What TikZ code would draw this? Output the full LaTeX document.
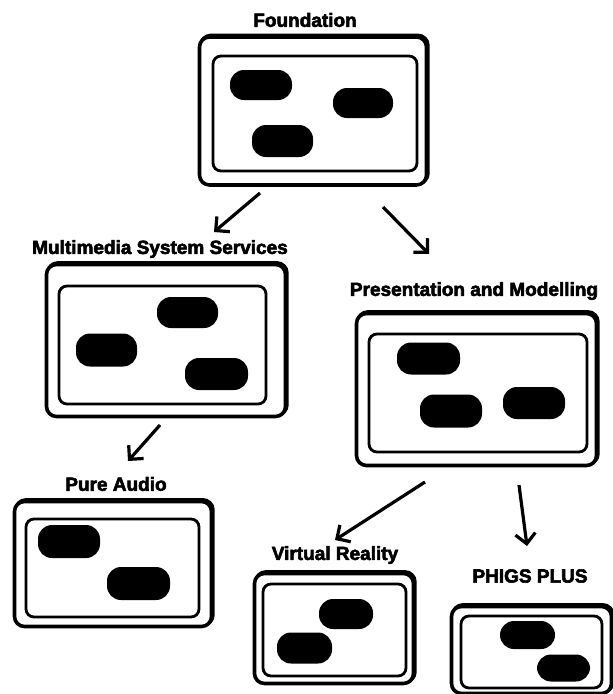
\documentclass[tikz,border=0pt]{standalone}
\usepackage{fontspec}
\setmainfont{Liberation Sans}
\newfontfamily\labfont[FakeBold=3]{Liberation Sans}
\usetikzlibrary{arrows.meta}
\tikzset{
  outerbox/.style={draw, line width=3.6pt, rounded corners=10pt, inner sep=0pt, fill=white},
  shadowbox/.style={draw, line width=3.6pt, rounded corners=10pt, inner sep=0pt},
  innerbox/.style={draw, line width=2.8pt, rounded corners=8pt, inner sep=0pt},
  pill/.style={fill=black, rounded corners=14pt, inner sep=0pt},
  lab/.style={font=\labfont\bfseries\fontsize{19}{19}\selectfont, inner sep=0pt},
  arr/.style={line width=3.2pt, -{Straight Barb[length=10pt,width=20pt,line width=3.2pt]}}
}
\begin{document}
\begin{tikzpicture}[x=1pt,y=-1pt]
\useasboundingbox[fill=white] (0,0) rectangle (613,694);

% Foundation
\node[shadowbox, minimum width=227pt, minimum height=148pt] (fs) at (314.4,109.4) {};
\node[outerbox, minimum width=227pt, minimum height=148pt] (f) at (313,111) {};
\node[innerbox, minimum width=204pt, minimum height=115pt] (fi) at (315,113.5) {};
\node[pill, minimum width=62pt, minimum height=30pt] (f1) at (261,85) {};
\node[pill, minimum width=60pt, minimum height=30pt] (f2) at (363,103) {};
\node[pill, minimum width=61pt, minimum height=32pt] (f3) at (282.5,141) {};
\node[lab] (fl) at (305,20) {Foundation};

% Multimedia System Services
\node[shadowbox, minimum width=239pt, minimum height=152pt] (ms) at (167.4,338.9) {};
\node[outerbox, minimum width=239pt, minimum height=152pt] (m) at (166,340.5) {};
\node[innerbox, minimum width=207pt, minimum height=118pt] (mi) at (162.5,345) {};
\node[pill, minimum width=61pt, minimum height=31pt] (m1) at (187.5,312.5) {};
\node[pill, minimum width=61pt, minimum height=33pt] (m2) at (106.5,350) {};
\node[pill, minimum width=63pt, minimum height=32pt] (m3) at (216.5,374) {};
\node[lab] (ml) at (160,249) {Multimedia System Services};

% Presentation and Modelling
\node[shadowbox, minimum width=240pt, minimum height=152pt] (ps) at (477.9,387.9) {};
\node[outerbox, minimum width=240pt, minimum height=152pt] (p) at (476.5,389.5) {};
\node[innerbox, minimum width=218pt, minimum height=118pt] (pi) at (478,393) {};
\node[pill, minimum width=63pt, minimum height=32pt] (p1) at (428.5,358.5) {};
\node[pill, minimum width=62pt, minimum height=33pt] (p2) at (451,411) {};
\node[pill, minimum width=62pt, minimum height=32pt] (p3) at (534,403) {};
\node[lab] (pl) at (474,291) {Presentation and Modelling};

% Pure Audio
\node[shadowbox, minimum width=197pt, minimum height=125pt] (as) at (114.4,562.4) {};
\node[outerbox, minimum width=197pt, minimum height=125pt] (a) at (113,564) {};
\node[innerbox, minimum width=173pt, minimum height=98pt] (ai) at (112.5,568) {};
\node[pill, minimum width=62pt, minimum height=33pt] (a1) at (69,541.5) {};
\node[pill, minimum width=63pt, minimum height=33pt] (a2) at (138.5,583.5) {};
\node[lab] (al) at (116,484) {Pure Audio};

% Virtual Reality
\node[shadowbox, minimum width=159pt, minimum height=110pt] (vs) at (335.4,626.9) {};
\node[outerbox, minimum width=159pt, minimum height=110pt] (v) at (334,628.5) {};
\node[innerbox, minimum width=143pt, minimum height=92pt] (vi) at (334.5,630) {};
\node[pill, minimum width=54pt, minimum height=30pt] (v1) at (346,614) {};
\node[pill, minimum width=55pt, minimum height=31pt] (v2) at (304.5,648) {};
\node[lab] (vl) at (335,555) {Virtual Reality};

% PHIGS PLUS
\node[shadowbox, minimum width=160pt, minimum height=87pt] (hs) at (532.9,648.4) {};
\node[outerbox, minimum width=160pt, minimum height=87pt] (h) at (531.5,650) {};
\node[innerbox, minimum width=141pt, minimum height=72pt] (hi) at (531.5,652) {};
\node[pill, minimum width=55pt, minimum height=28pt] (h1) at (527.5,635) {};
\node[pill, minimum width=53pt, minimum height=27pt] (h2) at (563.5,668) {};
\node[lab] (hl) at (530,576) {PHIGS PLUS};

% connector ends
\coordinate (f-m) at (260,193);
\coordinate (m-t) at (214,232);
\coordinate (f-p) at (383,207);
\coordinate (p-t) at (429,254);
\coordinate (m-a) at (160,425);
\coordinate (a-t) at (128,461);
\coordinate (p-v) at (425,482);
\coordinate (v-t) at (335,540);
\coordinate (p-h) at (519,485);
\coordinate (h-t) at (527,546);

\draw[arr] (f-m) -- (m-t);
\draw[arr] (f-p) -- (p-t);
\draw[arr] (m-a) -- (a-t);
\draw[arr] (p-v) -- (v-t);
\draw[arr] (p-h) -- (h-t);
\end{tikzpicture}
\end{document}
